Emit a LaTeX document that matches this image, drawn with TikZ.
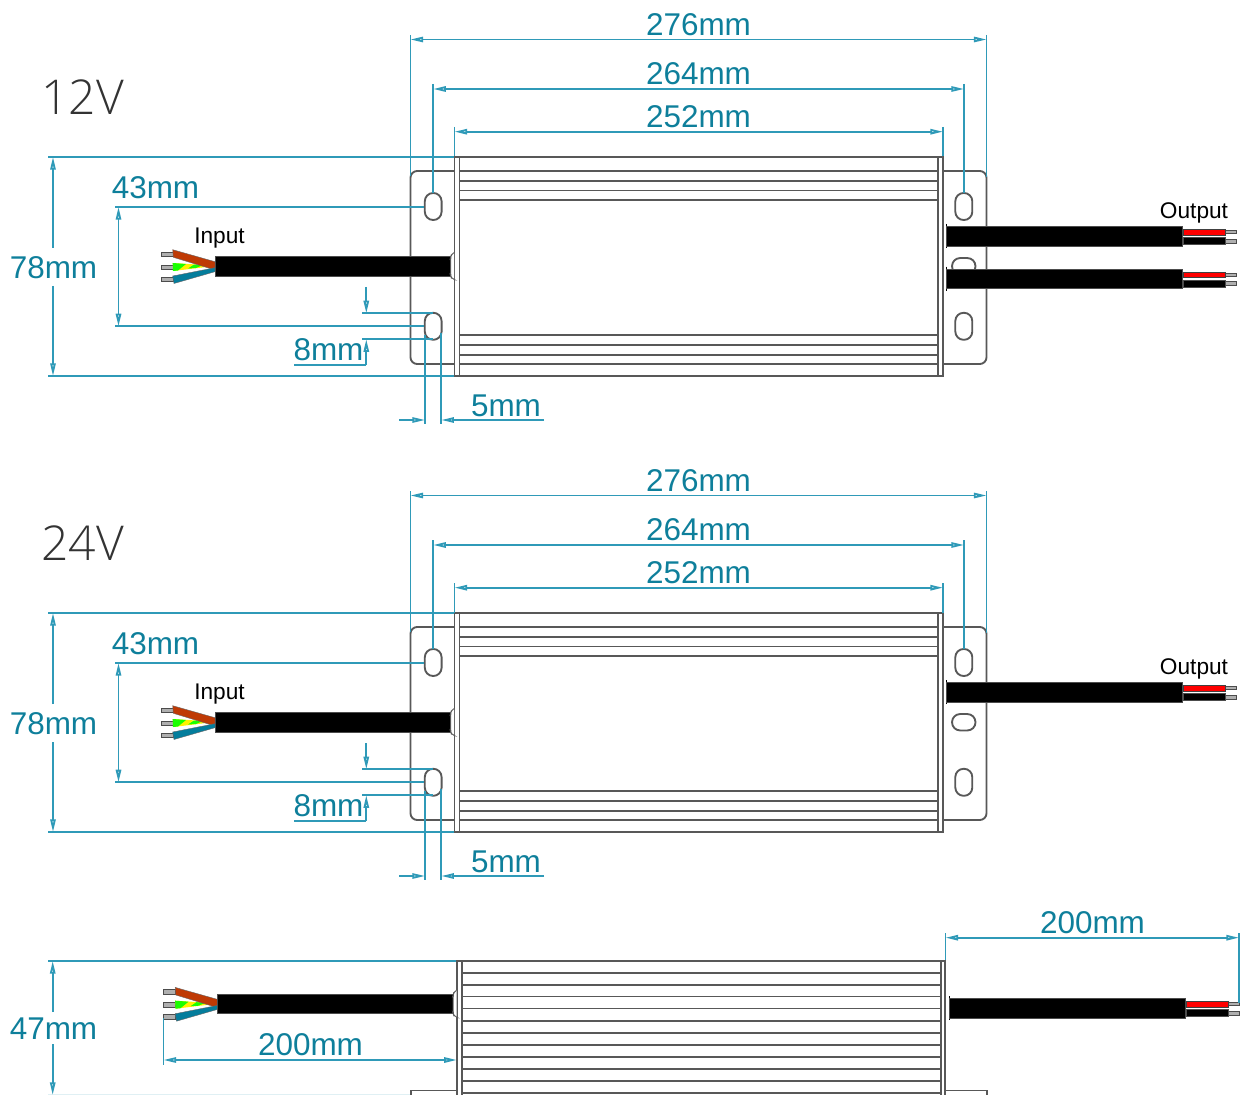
\documentclass[tikz,border=0pt]{standalone}
\usepackage{fontspec}
\setmainfont{Liberation Sans}
\newfontfamily\lightface{Open Sans Light}
\usetikzlibrary{arrows.meta}
\definecolor{dimline}{HTML}{2F9AB8}
\definecolor{dimtext}{HTML}{0E7F9B}
\definecolor{steel}{HTML}{585858}
\definecolor{tipgrey}{HTML}{AFAFAF}
\definecolor{wirered}{HTML}{BF3A05}
\definecolor{wireteal}{HTML}{047D9C}
\tikzset{
  x=0.75pt,y=-0.75pt,
  dimarrow/.tip={Triangle[length=9.5pt,width=4pt,fill=white]},
  dim/.style={draw=dimline,line width=1.4pt},
  dima/.style={dim,{dimarrow}-{dimarrow}},
  dimend/.style={dim,-{dimarrow}},
  dimlabel/.style={text=dimtext,font=\fontsize{23.6}{26}\selectfont,inner sep=0pt},
  bigvolt/.style={text=black!80,font=\lightface\fontsize{36}{40}\selectfont,inner sep=0pt},
  smalllabel/.style={text=black,font=\fontsize{17}{20}\selectfont,inner sep=0pt},
  bodyline/.style={draw=steel,line width=1.4pt},
  slotshape/.style={bodyline,rounded corners=6.2pt,fill=white},
  cablefill/.style={draw=black!70,line width=0.5pt,fill=black},
  tipfill/.style={draw=black!70,line width=0.6pt,fill=tipgrey},
  inputwires/.pic={
    \fill[tipfill] (161,252) rectangle (173,256.7);
    \fill[tipfill] (161,265) rectangle (173,269.5);
    \fill[tipfill] (161,277) rectangle (173,281.7);
    \fill[yellow] (172.7,263) -- (204,265) -- (206,267) -- (173.3,271) -- cycle;
    \fill[green!90!yellow] (172.7,263) -- (186,264) -- (178,270.5) -- (173,271) -- cycle;
    \fill[green!90!yellow] (194,264.5) -- (203,265) -- (196,268) -- (188,268.5) -- cycle;
    \filldraw[fill=wirered,draw=black!60,line width=0.3pt] (172.7,249.7) -- (215,261.7) -- (215,270) -- (173.3,257.3) -- cycle;
    \filldraw[fill=wireteal,draw=black!60,line width=0.3pt] (172.7,276) -- (215,267.7) -- (215,271.7) -- (174,283.5) -- cycle;
    \fill[cablefill] (215,256.7) rectangle (450.7,276);
    \filldraw[draw=steel,line width=0.7pt,fill=white,rounded corners=2pt] (454,252.7) -- (451.5,254) -- (450.7,257) -- (450.7,276) -- (451.5,278.5) -- (454,279.3);
  },
  outputwires/.pic={
    \draw[black,line width=1pt] (946.7,224) -- (946.7,248);
    \fill[tipfill] (1225,230.6) rectangle (1236.7,233.8);
    \fill[tipfill] (1225,239.2) rectangle (1236.7,243);
    \filldraw[fill=red,draw=black!75,line width=0.7pt] (1183,229.3) rectangle (1225,235.2);
    \fill[cablefill] (1183,237.7) rectangle (1225,244.3);
    \fill[cablefill] (946.7,226.7) rectangle (1182.7,246);
  },
  fullbody/.pic={
    \draw[bodyline,rounded corners=5pt] (454.5,171) -- (410.5,171) -- (410.5,364) -- (454.5,364);
    \draw[bodyline,rounded corners=5pt] (943,171) -- (986.5,171) -- (986.5,364) -- (943,364);
    \foreach \cy in {206.5,326.3}{
      \draw[slotshape] (424.8,\cy-13.5) rectangle (441.6,\cy+13.5);
      \draw[slotshape] (955.3,\cy-13.5) rectangle (972.3,\cy+13.5);
    }
    \draw[slotshape] (952,258) rectangle (975.5,274.5);
    \draw[bodyline,fill=white] (454.5,157) rectangle (943,376);
    \draw[bodyline] (459.5,157) -- (459.5,376) (938,157) -- (938,376);
    \foreach \fy in {171,181,190.5,200.3,335,345,355,364.3}{
      \draw[bodyline] (459.5,\fy) -- (938,\fy);
    }
  },
  dimset/.pic={
    \draw[dima] (410.5,39.5) -- (986.5,39.5);
    \draw[dim] (410.5,35) -- (410.5,176) (986.5,35) -- (986.5,177);
    \draw[dima] (433.2,89) -- (964,89);
    \draw[dim] (433.2,84) -- (433.2,193) (964,84) -- (964,193);
    \draw[dima] (454.5,131.7) -- (943,131.7);
    \draw[dim] (454.5,127) -- (454.5,156.5) (943,127) -- (943,156.5);
    \node[dimlabel] (-t276) at (698.5,24.5) {276mm};
    \node[dimlabel] (-t264) at (698.5,73.5) {264mm};
    \node[dimlabel] (-t252) at (698.5,116.5) {252mm};
    \draw[dim] (48,157) -- (454,157) (48,376) -- (454,376);
    \draw[dimend] (53,248) -- (53,157);
    \draw[dimend] (53,286) -- (53,376);
    \node[dimlabel] (-t78) at (53.5,267.5) {78mm};
    \draw[dim] (115,207) -- (423.5,207) (115,326.3) -- (423.5,326.3);
    \draw[dima] (118.5,207) -- (118.5,326.3);
    \node[dimlabel] (-t43) at (155.5,187.5) {43mm};
    \draw[dim] (362,313.3) -- (433,313.3) (362,339.3) -- (433,339.3);
    \draw[dimend] (366.3,287) -- (366.3,313.3);
    \draw[dimend] (366.3,365) -- (366.3,339.3);
    \draw[dim] (294,365) -- (366.3,365);
    \node[dimlabel] (-t8) at (328.5,350) {8mm};
    \draw[dim] (425,335) -- (425,424) (441.3,333) -- (441.3,424);
    \draw[dimend] (399,420) -- (425,420);
    \draw[dimend] (544,420) -- (441.3,420);
    \node[dimlabel] (-t5) at (506,405.5) {5mm};
  }
}
\begin{document}
\begin{tikzpicture}
\useasboundingbox (0,0) rectangle (1240,1095);
\node[bigvolt] (v12) at (82.5,97) {12V};
\pic (a) at (0,0) {fullbody};
\pic (ain) at (0,0) {inputwires};
\pic (aoutA) at (0,0) {outputwires};
\pic (aoutB) at (0,42.7) {outputwires};
\pic (ad) at (0,0) {dimset};
\node[smalllabel] (ainput) at (219.5,238) {Input};
\node[smalllabel] (aoutput) at (1194,212.5) {Output};
\node[bigvolt] (v24) at (82.5,543) {24V};
\pic (b) at (0,456) {fullbody};
\pic (bin) at (0,456) {inputwires};
\pic (bout) at (0,456) {outputwires};
\pic (bd) at (0,456) {dimset};
\node[smalllabel] (binput) at (219.5,694.5) {Input};
\node[smalllabel] (boutput) at (1194,668.5) {Output};
\draw[bodyline] (410.7,1095) -- (410.7,1090.5) -- (456.8,1090.5) (986.7,1095) -- (986.7,1090.5) -- (945,1090.5);
\draw[bodyline] (456.8,1095) -- (456.8,961) -- (945,961) -- (945,1095);
\draw[bodyline] (461.8,961) -- (461.8,1095) (940.7,961) -- (940.7,1095);
\foreach \fy in {972.7,985,996.5,1008.5,1020.7,1032.7,1045,1056.7,1068.7,1080.7,1093.3}{
  \draw[bodyline] (461.8,\fy) -- (940.7,\fy);
}
\pic (cin) at (2.5,737.7) {inputwires};
\pic (cout) at (3,772) {outputwires};
\draw[dim] (48,961) -- (456,961);
\draw[dim,draw=dimline!15] (48,1094.5) -- (410,1094.5);
\draw[dimend] (52.7,1012) -- (52.7,961);
\draw[dimend] (52.7,1044) -- (52.7,1095);
\node[dimlabel] (t47) at (53.5,1029) {47mm};
\draw[dim] (163.5,1018) -- (163.5,1065);
\draw[dima] (163.5,1060) -- (456.8,1060);
\node[dimlabel] (t200a) at (310.5,1044.5) {200mm};
\draw[dim] (945.5,933) -- (945.5,960) (1239,933) -- (1239,1003);
\draw[dima] (945.5,937.7) -- (1239,937.7);
\node[dimlabel] (t200b) at (1092.5,922.5) {200mm};
\end{tikzpicture}
\end{document}
